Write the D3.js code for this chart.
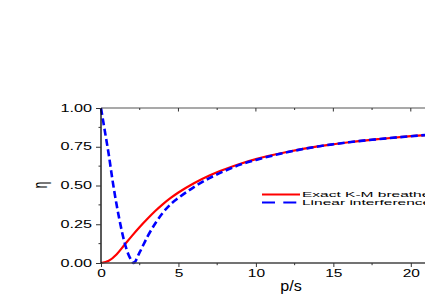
<!DOCTYPE html>
<html><head><meta charset="utf-8">
<script src="https://cdn.jsdelivr.net/npm/d3@7"></script>
<style>
html,body{margin:0;padding:0;background:#fff;overflow:hidden;}
svg{display:block;font-family:"Liberation Sans",Arial,sans-serif;}
</style></head>
<body>
<svg id="chart" width="425" height="300"></svg>
<script>
// Data
const exactP   = [0, 0.5, 1, 1.5, 2, 2.5, 3, 3.5, 4, 4.5, 5, 6, 7, 8, 9, 10, 12, 14, 15, 16, 18, 20, 21];
const exactEta = [0, 0.014, 0.055, 0.115, 0.175, 0.232, 0.285, 0.335, 0.38, 0.42, 0.455, 0.515, 0.565, 0.605, 0.64, 0.67, 0.716, 0.752, 0.766, 0.779, 0.80, 0.818, 0.826];
const linearP   = [0, 0.25, 0.5, 0.75, 1, 1.25, 1.5, 1.75, 2, 2.1, 2.5, 3, 3.5, 4, 4.5, 5, 6, 7, 8, 9, 10, 12, 14, 15, 16, 18, 20, 21];
const linearEta = [1.0, 0.85, 0.70, 0.53, 0.38, 0.25, 0.14, 0.06, 0.012, 0.0, 0.07, 0.17, 0.255, 0.325, 0.38, 0.42, 0.49, 0.548, 0.595, 0.635, 0.665, 0.714, 0.752, 0.766, 0.779, 0.80, 0.818, 0.826];
const xTicks = [0, 5, 10, 15, 20];
const xMinor = [2.5, 7.5, 12.5, 17.5];
const yTicks = [0, 0.25, 0.5, 0.75, 1.0];
const yMinor = [0.125, 0.375, 0.625, 0.875];
const seriesNames = ["Exact K-M breather", "Linear interference"];
const xLabel = "p/s";
const yLabel = "\u03B7";

const svg = d3.select("#chart");
const pLeft = 101, pRight = 101 + 15.49 * 21, pTop = 108, pBottom = 263;
const x = d3.scaleLinear().domain([0, 21]).range([pLeft, pRight]);
const y = d3.scaleLinear().domain([0, 1]).range([pBottom, pTop]);

function stretch(sel, k) {
  sel.each(function () {
    const w = this.getComputedTextLength();
    d3.select(this).attr("textLength", w * k).attr("lengthAdjust", "spacingAndGlyphs");
  });
}

// Curves
const line = d3.line().x(d => x(d[0])).y(d => y(d[1])).curve(d3.curveMonotoneX);
const exactData = exactP.map((p, i) => [p, exactEta[i]]);
const linearData = linearP.map((p, i) => [p, linearEta[i]]);

svg.append("path").datum(exactData).attr("d", line)
  .attr("fill", "none").attr("stroke", "#ff0000").attr("stroke-width", 2.2);
svg.append("path").datum(linearData).attr("d", line)
  .attr("fill", "none").attr("stroke", "#0000ff").attr("stroke-width", 2.6)
  .attr("stroke-dasharray", "7,3.5");

// Top frame line
const topAxis = svg.append("g").attr("transform", `translate(0,${pTop})`);
topAxis.append("line").attr("x1", pLeft).attr("x2", 425).attr("y1", 0).attr("y2", 0)
  .attr("stroke", "#555").attr("stroke-width", 1.2);
topAxis.selectAll(".tmaj").data(xTicks.filter(d => d > 0)).enter().append("line")
  .attr("x1", d => x(d)).attr("x2", d => x(d)).attr("y1", 0).attr("y2", 3.5)
  .attr("stroke", "#333").attr("stroke-width", 1);
topAxis.selectAll(".tmin").data(xMinor).enter().append("line")
  .attr("x1", d => x(d)).attr("x2", d => x(d)).attr("y1", 0).attr("y2", 2)
  .attr("stroke", "#333").attr("stroke-width", 1);

// Bottom axis
const xAxis = svg.append("g").attr("transform", `translate(0,${pBottom})`)
  .call(d3.axisBottom(x).tickValues(xTicks).tickSize(4).tickPadding(3).tickFormat(d3.format("d")));
xAxis.select(".domain").attr("stroke", "#444").attr("stroke-width", 1.3).attr("d", `M${pLeft},0H425`);
xAxis.selectAll(".tick line").attr("stroke", "#333");
xAxis.selectAll(".tick text").attr("font-size", 10).attr("fill", "#000").call(stretch, 1.55);
svg.append("g").attr("transform", `translate(0,${pBottom})`)
  .selectAll("line").data(xMinor).enter().append("line")
  .attr("x1", d => x(d)).attr("x2", d => x(d)).attr("y1", 0).attr("y2", 2.2)
  .attr("stroke", "#333");

// Left axis
const yAxis = svg.append("g").attr("transform", `translate(${pLeft},0)`)
  .call(d3.axisLeft(y).tickValues(yTicks).tickSize(5).tickPadding(4).tickFormat(d3.format(".2f")));
yAxis.select(".domain").attr("stroke", "#000").attr("stroke-width", 1.3).attr("d", `M0,${pBottom}V${pTop}`);
yAxis.selectAll(".tick line").attr("stroke", "#333");
yAxis.selectAll(".tick text").attr("font-size", 10).attr("fill", "#000").call(stretch, 1.62);
svg.append("g").attr("transform", `translate(${pLeft},0)`)
  .selectAll("line").data(yMinor).enter().append("line")
  .attr("x1", -2.5).attr("x2", 0).attr("y1", d => y(d)).attr("y2", d => y(d))
  .attr("stroke", "#333");

// Axis labels
const xl = svg.append("text").attr("x", 291).attr("y", 290.5).attr("text-anchor", "middle")
  .attr("font-size", 14).attr("fill", "#000").text(xLabel);
xl.call(stretch, 1.15);
svg.append("text").attr("transform", "translate(47,185) scale(1.7,1) rotate(-90)")
  .attr("text-anchor", "middle").attr("font-size", 11.5).attr("fill", "#000").text(yLabel);

// Legend
const legend = svg.append("g");
const legendY = [194.5, 202.5];
legend.append("line").attr("x1", 262).attr("x2", 300).attr("y1", legendY[0]).attr("y2", legendY[0])
  .attr("stroke", "#ff0000").attr("stroke-width", 2);
legend.append("line").attr("x1", 262).attr("x2", 300).attr("y1", legendY[1]).attr("y2", legendY[1])
  .attr("stroke", "#0000ff").attr("stroke-width", 2.2).attr("stroke-dasharray", "13,8.3");
legend.selectAll("text").data(seriesNames).enter().append("text")
  .attr("x", 302).attr("y", (d, i) => legendY[i] + 2.5)
  .attr("font-size", 6.8).attr("fill", "#000").text(d => d)
  .call(stretch, 2.28);
</script>
</body></html>
